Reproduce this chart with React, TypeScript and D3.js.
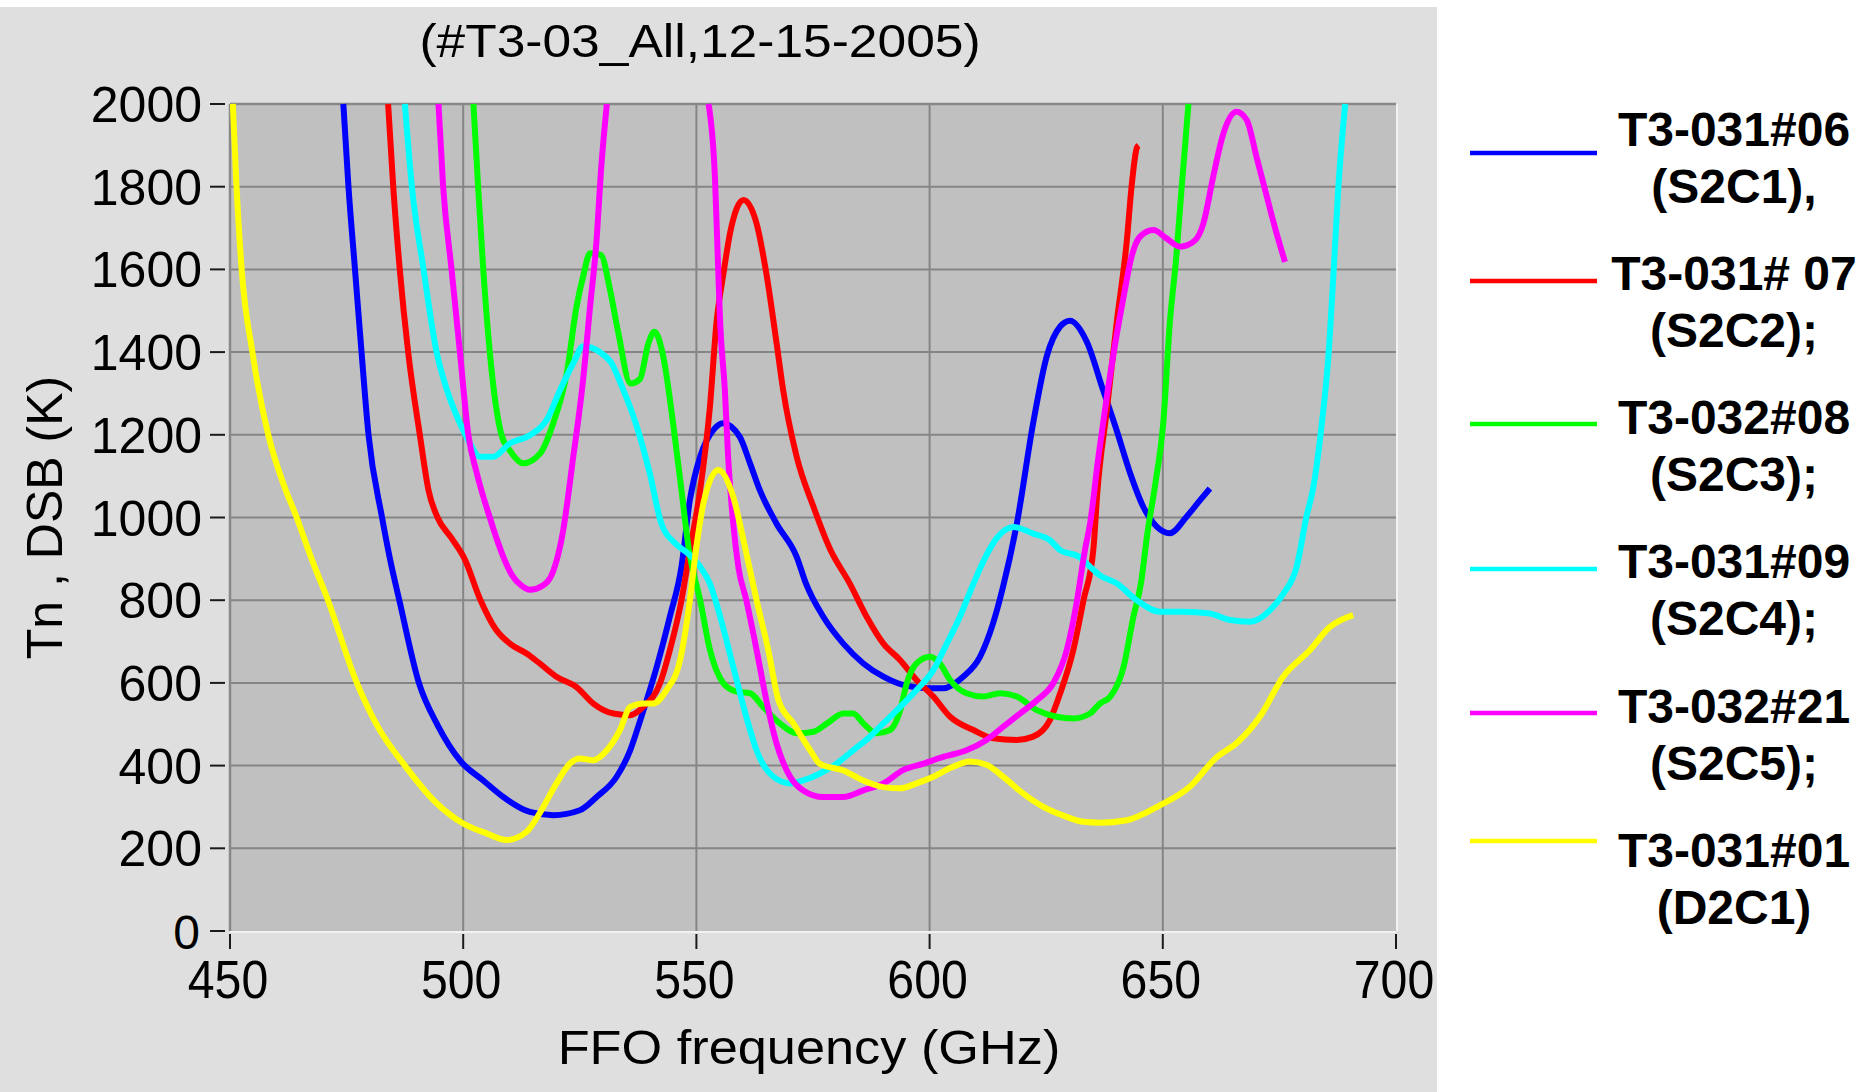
import React from 'react';
import * as d3 from 'd3';

type Pt = [number, number | null];

// FFO frequency (GHz), Tn DSB (K)
const s2c1: Pt[] = [[474.3,2000],[475.4,1800],[476.8,1600],[478.2,1400],[479.7,1200],[482.6,1000],[484.3,900],[486.3,800],[490.5,600],[494.5,498],[499.5,410],[504.3,364],[508.6,324],[514.3,288],[519.3,280],[525,292],[528.6,324],[532.9,373],[535.8,437],[538.2,518],[541.5,639],[544.3,760],[546.8,881],[548.6,1042],[550.8,1147],[553.6,1211],[555.7,1228],[559.3,1195],[561.5,1131],[563.6,1066],[567.2,985],[571.5,905],[573.5,840],[577.2,760],[581.5,695],[585.8,647],[590.1,615],[594.3,595],[599.4,587],[602.9,587],[607.2,615],[610.8,663],[613.6,744],[615.8,835],[618.7,985],[622.2,1228],[625.1,1389],[628,1462],[630.1,1476],[633.7,1425],[637.2,1308],[640.1,1211],[643,1107],[645.8,1026],[648.7,978],[651.5,962],[655.1,1002],[658,1042],[660.1,1070]];

const s2c2: Pt[] = [[483.9,2000],[485,1800],[486.4,1600],[488.2,1400],[490.7,1200],[492.6,1064],[494.5,1000],[497.5,950],[500.3,900],[503.6,803],[506.9,731],[510,695],[513.6,671],[516.4,647],[520,615],[524.3,590],[527.9,550],[532.2,526],[535.8,522],[538.6,542],[542.2,599],[544.3,679],[546.8,800],[548.6,921],[550.8,1066],[552.9,1268],[554.3,1470],[555.8,1590],[557.2,1687],[560.1,1768],[562.9,1711],[565,1590],[567.2,1421],[568.6,1308],[571.5,1147],[575.1,1026],[578.6,925],[582.9,840],[586.5,760],[590.1,695],[593.7,655],[597.2,607],[600.8,567],[604.4,518],[609.4,486],[613.6,466],[618.7,462],[622.2,470],[625.8,510],[628,575],[630.8,679],[633,800],[635.1,921],[636,1066],[638,1260],[640.1,1470],[642.3,1671],[643.3,1800],[644.4,1893],[644.8,1900]];

const s2c3: Pt[] = [[502.2,2000],[503.2,1800],[504.3,1600],[505.7,1400],[508.2,1200],[510,1162],[512.9,1131],[516.5,1155],[519.3,1228],[522.2,1349],[524.3,1510],[525.7,1582],[527.2,1639],[529.5,1635],[531.5,1550],[533.2,1450],[535.9,1324],[537.9,1335],[539.7,1421],[541,1449],[542.9,1389],[545,1228],[546.8,1066],[548.4,921],[550.8,800],[552.9,680],[555.8,599],[558.6,579],[561.5,575],[564.3,542],[567.9,502],[571.5,478],[575.1,482],[578,502],[581.5,526],[583.6,526],[585.8,502],[588.6,478],[591.5,486],[593.7,534],[595.1,599],[597.2,647],[600.1,663],[602.2,647],[604.4,607],[607.9,575],[611.5,567],[615.1,575],[618.7,567],[623,534],[627.2,518],[630.8,514],[634.4,526],[636.5,550],[638.7,566],[641.6,639],[643.7,760],[645.3,840],[646.7,962],[648.4,1082],[650.1,1228],[651.5,1470],[652.9,1631],[654,1792],[655.5,2000]];

const s2c4: Pt[] = [[487.5,2000],[489,1800],[491.5,1600],[494.3,1400],[496.5,1309],[499.3,1228],[501.1,1187],[503.6,1147],[506.4,1147],[510,1179],[514.3,1199],[517.9,1236],[520.8,1309],[523.6,1373],[525.7,1414],[529.3,1400],[531.8,1373],[534.3,1309],[537,1228],[540,1107],[542.5,985],[545.5,937],[548.2,913],[550.8,881],[552.9,840],[555.1,760],[557.9,639],[560.7,518],[562.9,437],[566.5,373],[570.1,357],[572.9,364],[576.5,381],[580.1,405],[583.6,437],[587.2,470],[590.1,502],[593.7,542],[597.2,583],[600.8,631],[603.7,695],[606.5,760],[609.4,840],[612,905],[614.4,950],[618,977],[622.2,961],[625.8,945],[628,921],[632,905],[634.4,881],[636.5,860],[640.1,841],[644.4,800],[649.4,772],[654.4,772],[660.1,768],[664.4,752],[668.7,748],[673,776],[675.8,815],[678.7,881],[680.8,1002],[682.3,1075],[684.1,1228],[685.5,1389],[686.6,1590],[687.6,1792],[689.1,2000]];

const s2c5: Pt[] = [[494.7,2000],[495.7,1800],[497.5,1600],[499.3,1400],[501.1,1200],[502.9,1108],[505.7,1000],[508.6,905],[510.5,860],[512.5,835],[514.3,825],[517,835],[519.3,870],[521.3,960],[523.6,1147],[525.7,1332],[527.2,1510],[528.6,1671],[529.5,1832],[530.8,2000],[541.7,null],[552.6,2000],[554,1816],[554.7,1590],[555.1,1470],[556.1,1308],[556.8,1147],[557.9,985],[559,880],[560.7,800],[562.9,680],[565,558],[567.2,453],[570.1,373],[572.9,340],[577.2,324],[581.5,324],[585.8,340],[590.1,357],[594.3,389],[598.7,405],[602.9,421],[607.9,437],[612.2,462],[615.8,494],[619.4,526],[623,558],[626.5,599],[629.4,679],[631.5,792],[633.3,921],[634.4,985],[636.2,1147],[638,1292],[639.8,1421],[641.6,1534],[643.3,1631],[645.1,1679],[648,1695],[650.8,1675],[653.7,1655],[656.6,1667],[658.7,1711],[660.8,1824],[663,1929],[665.8,1981],[668,1961],[670.1,1872],[672.3,1776],[674.4,1687],[676.2,1618]];

const d2c1: Pt[] = [[450.6,2000],[451.4,1800],[452.5,1600],[454.8,1400],[458.2,1200],[461.4,1083],[464.3,1000],[467.5,900],[471,800],[477.2,600],[481.5,498],[487.5,400],[494.3,309],[500,260],[505,236],[509.3,220],[513.6,240],[516.4,285],[520,357],[522.9,405],[525,417],[527.9,413],[530.8,437],[533.6,486],[535.8,542],[538.6,550],[540.7,550],[543.6,583],[546.5,655],[548.6,800],[549.8,912],[551.5,1034],[554.7,1115],[557.9,1050],[560.2,940],[562.9,800],[565.4,680],[567.6,558],[570.8,502],[574.4,437],[576.5,404],[581.5,388],[585.8,364],[590.1,348],[593.7,345],[597.2,357],[600.8,373],[604.4,394],[608.7,410],[612.2,402],[615.8,373],[620.1,332],[624.4,300],[629.4,276],[633,264],[636.5,262],[642.3,268],[649.4,304],[655.8,349],[661.6,421],[665.8,454],[670.8,518],[675.8,615],[681.6,680],[685.8,735],[690.8,764]];

const seriesData: Pt[][] = [s2c1, s2c2, s2c3, s2c4, s2c5, d2c1];
const seriesNames = ['T3-031#06', 'T3-031# 07', 'T3-032#08', 'T3-031#09', 'T3-032#21', 'T3-031#01'];
const seriesSubs = ['(S2C1),', '(S2C2);', '(S2C3);', '(S2C4);', '(S2C5);', '(D2C1)'];
const seriesColors = ['#0000ff', '#ff0000', '#00ff00', '#00ffff', '#ff00ff', '#ffff00'];
const xTicks = [450, 500, 550, 600, 650, 700];
const yTicks = [0, 200, 400, 600, 800, 1000, 1200, 1400, 1600, 1800, 2000];
const titleText = '(#T3-03_All,12-15-2005)';
const xTitle = 'FFO frequency (GHz)';
const yTitle = 'Tn , DSB (K)';

// layout (pixels)
const W = 1859, H = 1092;
const PL = 230, PR = 1396, PT = 104, PB = 931;
const legendLineY = [153, 281, 424, 569, 713, 841];
const legendTextY = [146, 289.5, 434, 577.7, 723, 866.5];
const FONT = '"Liberation Sans", Arial, sans-serif';

export default function App() {
  const x = d3.scaleLinear().domain([450, 700]).range([PL, PR]);
  const y = d3.scaleLinear().domain([0, 2000]).range([PB, PT]);
  const line = d3.line<Pt>()
    .defined(d => d[1] !== null)
    .x(d => x(d[0]))
    .y(d => y(d[1] as number))
    .curve(d3.curveMonotoneX);

  return (
    <div style={{ position: 'absolute', left: 0, top: 0, width: W, height: H, overflow: 'hidden' }}>
      <svg width={W} height={H} style={{ display: 'block' }}>
        <defs>
          <clipPath id="plotclip">
            <rect x={PL} y={PT - 4} width={PR - PL} height={PB - PT + 4} />
          </clipPath>
        </defs>
        <rect x={0} y={0} width={W} height={H} fill="#ffffff" />
        <rect x={0} y={7} width={1437} height={H - 7} fill="#dfdfdf" />
        <rect x={PL} y={PT} width={PR - PL} height={PB - PT} fill="#c0c0c0" />
        {/* grid */}
        {xTicks.slice(1, -1).map(t => (
          <line key={'gx' + t} x1={x(t)} x2={x(t)} y1={PT} y2={PB} stroke="#858585" strokeWidth={2} />
        ))}
        {yTicks.slice(1, -1).map(t => (
          <line key={'gy' + t} x1={PL} x2={PR} y1={y(t)} y2={y(t)} stroke="#858585" strokeWidth={2} />
        ))}
        {/* inset border */}
        <line x1={PL} x2={PR} y1={PT} y2={PT} stroke="#888888" strokeWidth={2.5} />
        <line x1={PL} x2={PL} y1={PT} y2={PB} stroke="#888888" strokeWidth={2.5} />
        <line x1={PL} x2={PR} y1={PB + 1} y2={PB + 1} stroke="#f2f2f2" strokeWidth={2} />
        <line x1={PR + 1} x2={PR + 1} y1={PT} y2={PB} stroke="#f2f2f2" strokeWidth={2} />
        {/* curves */}
        <g clipPath="url(#plotclip)">
          {seriesData.map((d, i) => (
            <path key={'s' + i} d={line(d) || ''} fill="none" stroke={seriesColors[i]} strokeWidth={6}
              strokeLinejoin="round" strokeLinecap="butt" />
          ))}
        </g>
        {/* y axis */}
        {yTicks.map(t => (
          <g key={'yt' + t}>
            <line x1={210} x2={225} y1={y(t)} y2={y(t)} stroke="#1a1a1a" strokeWidth={2} />
            <text x={t === 0 ? 200 : 202} y={y(t) + 18} textAnchor="end" fontFamily={FONT} fontSize={t === 0 ? 48 : 50} fill="#000">{t}</text>
          </g>
        ))}
        {/* x axis */}
        {xTicks.map(t => (
          <g key={'xt' + t}>
            <line x1={x(t)} x2={x(t)} y1={934} y2={949} stroke="#1a1a1a" strokeWidth={2} />
            <text transform={`translate(${x(t) - 2},998) scale(0.91,1)`} textAnchor="middle" fontFamily={FONT} fontSize={53} fill="#000">{t}</text>
          </g>
        ))}
        <text transform={`translate(809,1064) scale(1.09,1)`} textAnchor="middle" fontFamily={FONT} fontSize={48} fill="#000">{xTitle}</text>
        <text transform={`translate(62,${(PT + PB) / 2}) rotate(-90)`} textAnchor="middle" fontFamily={FONT} fontSize={50} fill="#000">{yTitle}</text>
        <text transform={`translate(700,57) scale(1.12,1)`} textAnchor="middle" fontFamily={FONT} fontSize={46} fill="#000">{titleText}</text>
        {/* legend */}
        {seriesNames.map((n, i) => (
          <g key={'lg' + i}>
            <line x1={1470} x2={1597} y1={legendLineY[i]} y2={legendLineY[i]} stroke={seriesColors[i]} strokeWidth={4.5} />
            <text x={1734} y={legendTextY[i]} textAnchor="middle" fontFamily={FONT} fontWeight="bold" fontSize={48} fill="#000">{n}</text>
            <text x={1734} y={legendTextY[i] + 57} textAnchor="middle" fontFamily={FONT} fontWeight="bold" fontSize={48} fill="#000">{seriesSubs[i]}</text>
          </g>
        ))}
      </svg>
    </div>
  );
}
